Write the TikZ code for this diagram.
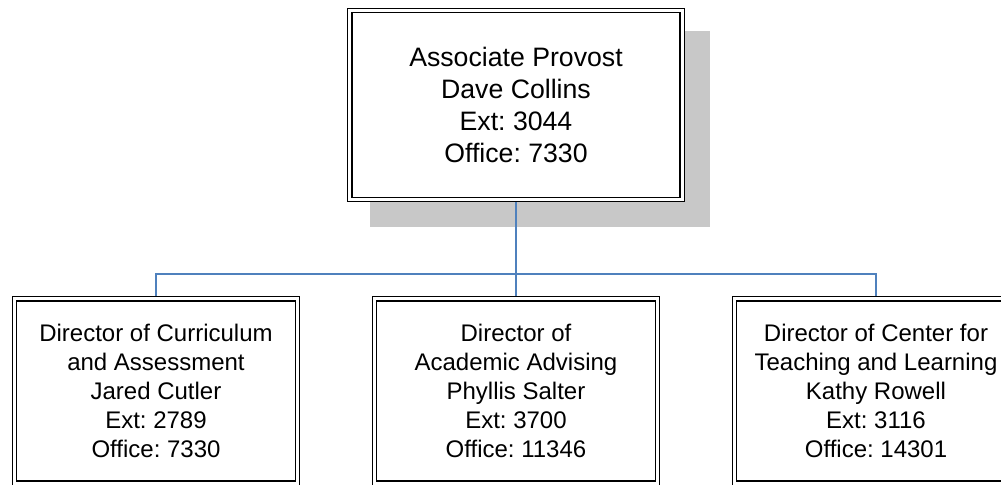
\documentclass[tikz,border=0pt]{standalone}
\usepackage{fontspec}
\setmainfont{Liberation Sans}
\frenchspacing
\usetikzlibrary{backgrounds}
\definecolor{connblue}{RGB}{79,129,189}
\definecolor{shadowgray}{RGB}{200,200,200}
\begin{document}
\begin{tikzpicture}[x=0.75pt,y=-0.75pt,
  orgbox/.style={draw=black, line width=1.2pt, double=white, double distance=2pt, fill=white, align=center, inner sep=0pt},
  topbox/.style={orgbox, minimum width=249.4pt, minimum height=141.75pt, font=\fontsize{20}{24}\selectfont},
  subbox/.style={orgbox, minimum width=212.25pt, minimum height=138.4pt, font=\fontsize{18}{21.6}\selectfont},
  conn/.style={draw=connblue, line width=1.3pt}]
\useasboundingbox (0,0) rectangle (1001,485);
\clip (0,0) rectangle (1001,485);
\node[topbox] (top) at (516,105) {Associate Provost\\Dave Collins\\Ext: 3044\\Office: 7330};
\node[subbox] (b1) at (156,391) {Director of Curriculum\\and Assessment\\Jared Cutler\\Ext: 2789\\Office: 7330};
\node[subbox] (b2) at (516,391) {Director of\\Academic Advising\\Phyllis Salter\\Ext: 3700\\Office: 11346};
\node[subbox] (b3) at (876,391) {Director of Center for\\Teaching and Learning\\Kathy Rowell\\Ext: 3116\\Office: 14301};
\coordinate (bus) at (516,274);
\begin{pgfonlayer}{background}
\fill[shadowgray] ([shift={(21.5,21.5)}]top.north west) rectangle ([shift={(27,26.5)}]top.south east);
\draw[conn] (top.south) -- (top.south |- bus);
\draw[conn] (b1.north) |- (bus) -| (b3.north);
\draw[conn] (b2.north) -- (b2.north |- bus);
\end{pgfonlayer}
\end{tikzpicture}
\end{document}
